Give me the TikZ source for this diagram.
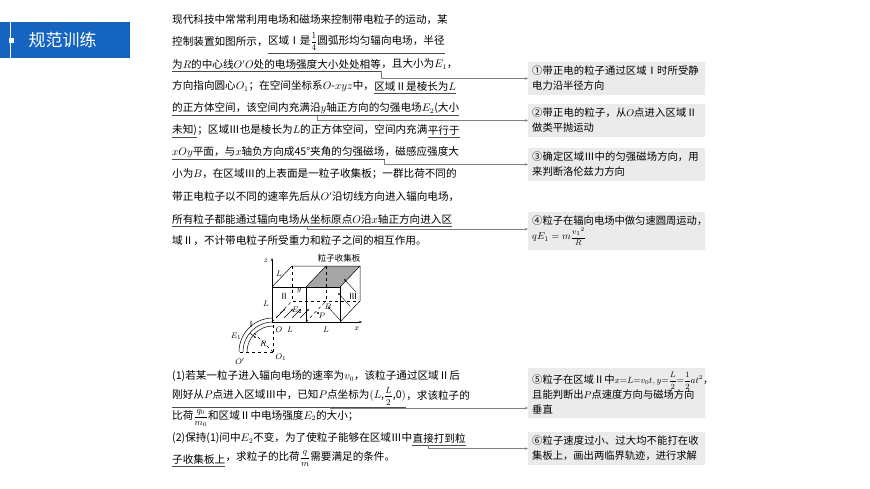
\documentclass[tikz,border=0pt]{standalone}
\usepackage{amsmath}
\usepackage{fontspec}
\setmainfont{Noto Sans CJK SC}
\XeTeXlinebreaklocale "zh"
\XeTeXlinebreakskip=0pt plus 1pt
\usetikzlibrary{calc,arrows.meta}
\definecolor{bannerblue}{HTML}{1565C0}
\definecolor{boxgray}{HTML}{EBEBEB}
\definecolor{linkgray}{HTML}{808080}
\newcommand{\sfr}[2]{{\fontsize{9}{10}\selectfont$\dfrac{#1}{#2}$}}
\newcommand{\nfr}[2]{{\fontsize{8}{9}\selectfont$\dfrac{#1}{#2}$}}
\tikzset{
  txt/.style={anchor=west,inner sep=0pt,font=\fontsize{10.6}{12}\selectfont},
  note/.style={anchor=north west,fill=boxgray,inner sep=4pt,text width=169pt,align=left,font=\fontsize{10.3}{15}\selectfont},
  link/.style={draw=linkgray,line width=0.6pt,-{Stealth[length=3pt,width=2.5pt]}},
  uline/.style={draw=black!70,line width=0.6pt},
  fig/.style={line width=0.5pt},
  lbl/.style={inner sep=0.5pt,font=\fontsize{8.5}{9}\selectfont}
}
\begin{document}
\begin{tikzpicture}[x=1pt,y=-1pt]
\useasboundingbox[fill=white] (0,0) rectangle (870,489);
% banner
\fill[bannerblue] (0,22) rectangle (130,58);
\draw[white,line width=0.5pt] (10,22) -- (10,58);
\fill[white] (9,38) rectangle (14,43);
\node[anchor=west,text=white,font=\fontsize{17}{20}\selectfont] (title) at (25,40) {规范训练};
% main text
\node[txt] (l1) at (172,20) {现代科技中常常利用电场和磁场来控制带电粒子的运动，某};
\node[txt] (l2a) at (172,42) {控制装置如图所示，};
\node[txt] (l2b) at (l2a.east) {区域Ⅰ是\sfr{1}{4}圆弧形均匀辐向电场，半径};
\node[txt] (l3a) at (172,64) {为$R$的中心线$O'O$处的电场强度大小处处相等};
\node[txt] (l3b) at (l3a.east) {，且大小为$E_1$，};
\node[txt] (l4a) at (172,86) {方向指向圆心$O_1$；在空间坐标系$O$-$xyz$中，};
\node[txt] (l4b) at (l4a.east) {区域Ⅱ是棱长为$L$};
\node[txt] (l5) at (172,108) {的正方体空间，该空间内充满沿$y$轴正方向的匀强电场$E_2$(大小};
\node[txt] (l6a) at (172,130) {未知)};
\node[txt] (l6b) at (l6a.east) {；区域Ⅲ也是棱长为$L$的正方体空间，空间内充满};
\node[txt] (l6c) at (l6b.east) {平行于};
\node[txt] (l7a) at (172,152) {$xOy$平面，与$x$轴负方向成45°夹角的匀强磁场};
\node[txt] (l7b) at (l7a.east) {，磁感应强度大};
\node[txt] (l8) at (172,174) {小为$B$，在区域Ⅲ的上表面是一粒子收集板；一群比荷不同的};
\node[txt] (l9) at (172,197) {带正电粒子以不同的速率先后从$O'$沿切线方向进入辐向电场，};
\node[txt] (l10) at (172,219) {所有粒子都能通过辐向电场从坐标原点$O$沿$x$轴正方向进入区};
\node[txt] (l11) at (172,241) {域Ⅱ，不计带电粒子所受重力和粒子之间的相互作用。};
\foreach \n in {l2b,l3a,l4b,l5,l6a,l6c,l7a,l10}
  \draw[uline] ($(\n.south west)+(0,2)$) -- ($(\n.south east)+(0,2)$);
% question text
\node[txt] (q1) at (172,376) {(1)若某一粒子进入辐向电场的速率为$v_0$，该粒子通过区域Ⅱ后};
\node[txt] (q2a) at (172,396) {刚好从$P$点进入区域Ⅲ中，已知$P$点坐标为$(L$,\sfr{L}{2},0$)$};
\node[txt] (q2b) at (q2a.east) {，求该粒子的};
\node[txt] (q3) at (172,418) {比荷\sfr{q_0}{m_0}和区域Ⅱ中电场强度$E_2$的大小；};
\node[txt] (q4a) at (172,438) {(2)保持(1)问中$E_2$不变，为了使粒子能够在区域Ⅲ中};
\node[txt] (q4b) at (q4a.east) {直接打到粒};
\node[txt] (q5a) at (172,459) {子收集板上};
\node[txt] (q5b) at (q5a.east) {，求粒子的比荷\sfr{q}{m}需要满足的条件。};
\draw[uline] ($(q2a.south west)+(0,2)$) -- ($(q2a.south east)+(0,2)$);
\foreach \n in {q4b,q5a}
  \draw[uline] ($(\n.south west)+(0,2)$) -- ($(\n.south east)+(0,2)$);
% notes
\node[note] (n1) at (528,62) {①带正电的粒子通过区域Ⅰ时所受静电力沿半径方向};
\node[note] (n2) at (528,104) {②带正电的粒子，从$O$点进入区域Ⅱ做类平抛运动};
\node[note] (n3) at (528,148) {③确定区域Ⅲ中的匀强磁场方向，用来判断洛伦兹力方向};
\node[note] (n4) at (528,212) {\mbox{④粒子在辐向电场中做匀速圆周运动，}\\$qE_1=m$\nfr{{v_1}^2}{R}};
\node[note] (n5) at (528,368) {\mbox{⑤粒子在区域Ⅱ中{\fontsize{9}{10}\selectfont$x{=}L{=}v_0t,y{=}$}\nfr{L}{2}{\fontsize{9}{10}\selectfont$=$}\nfr{1}{2}{\fontsize{9}{10}\selectfont$at^2$}，}\\且能判断出$P$点速度方向与磁场方向\\垂直};
\node[note] (n6) at (528,432) {⑥粒子速度过小、过大均不能打在收集板上，画出两临界轨迹，进行求解};
% connectors
\coordinate (c1) at ($(l3a.south east)+(0,2)$);
\draw[link] (c1) |- (n1.west);
\coordinate (c2) at ($(l5.south west)+(145,2)$);
\draw[link] (c2) |- (n2.west);
\coordinate (c3) at ($(l7a.south east)+(0,2)$);
\draw[link] (c3) |- (n3.west);
\coordinate (c4) at ($(l10.south west)+(135,2)$);
\coordinate (e4) at ($(n4.north west)+(0,17)$);
\draw[link] (c4) |- (e4);
\coordinate (c5) at ($(q2a.south west)+(158,2)$);
\coordinate (e5) at ($(n5.north west)+(0,40)$);
\draw[link] (c5) |- (e5);
\coordinate (c6) at ($(q4b.south west)+(16,2)$);
\draw[link] (c6) |- (n6.west);
% ---- figure ----
\coordinate (O) at (272,322);
\coordinate (O1) at (273,352);
\fill[gray!70] (306,287) -- (340,287) -- (360,266) -- (326,266) -- cycle;
\draw[fig] (272,287) rectangle (340,322);
\draw[fig] (306,287) -- (306,322);
\draw[fig] (272,287) -- (292,266) -- (360,266) -- (340,287);
\draw[fig] (306,287) -- (326,266);
\draw[fig] (340,322) -- (360,301) -- (360,266);
\draw[fig,dashed] (292,266) -- (292,301) -- (360,301);
\draw[fig,dashed] (326,266) -- (326,301);
\draw[fig,dashed] (306,322) -- (326,301);
\draw[fig,dashed] (O) -- (292,301);
\draw[fig,-{Stealth[length=3pt]}] (O) -- (272,258);
\draw[fig,-{Stealth[length=3pt]}] (O) -- (362,322);
\foreach \s in {276,284,292,300} \draw[line width=0.4pt,-{Stealth[length=2.5pt]}] (\s,318) -- (\s+9,309);
\foreach \a/\b in {340/320,350/306,356/292} \draw[line width=0.4pt,-{Stealth[length=2.5pt]}] (\a,\b) -- (\a-12,\b-13);
\fill (318,313) circle (1.1pt);
\draw[fig] (273,326) arc[start angle=-90,end angle=-180,radius=26];
\draw[fig] (273,322) arc[start angle=-90,end angle=-180,radius=30];
\draw[fig] (273,318) arc[start angle=-90,end angle=-180,radius=34];
\draw[fig,dashed] (O1) -- (273,322);
\draw[fig,dashed] (O1) -- (239,352);
\draw[fig,dashed] (O1) -- ++(-21,-21);
\draw[line width=0.4pt,-{Stealth[length=2.5pt]}] (250,333) -- (256,338);
\node[lbl] (lz) at (266,261) {$z$};
\node[lbl] (lx) at (357,329) {$x$};
\node[lbl] (ly) at (299,291) {$y$};
\node[lbl] (lL1) at (279,274) {$L$};
\node[lbl] (lL2) at (266,304) {$L$};
\node[lbl] (lL3) at (290,330) {$L$};
\node[lbl] (lL4) at (326,330) {$L$};
\node[lbl] (lII) at (284,296) {Ⅱ};
\node[lbl] (lIII) at (353,296) {Ⅲ};
\node[lbl] (lplate) at (339,258) {粒子收集板};
\node[lbl] (lE2) at (297,310) {$E_2$};
\node[lbl] (lB) at (328,307) {$B$};
\node[lbl] (lP) at (322,316) {$P$};
\node[lbl] (lO) at (279,330) {$O$};
\node[lbl] (lI) at (251,324) {Ⅰ};
\node[lbl] (lE1) at (236,336) {$E_1$};
\node[lbl] (lR) at (263,344) {$R$};
\node[lbl] (lO1) at (281,357) {$O_1$};
\node[lbl] (lOp) at (240,361) {$O'$};
\end{tikzpicture}
\end{document}
